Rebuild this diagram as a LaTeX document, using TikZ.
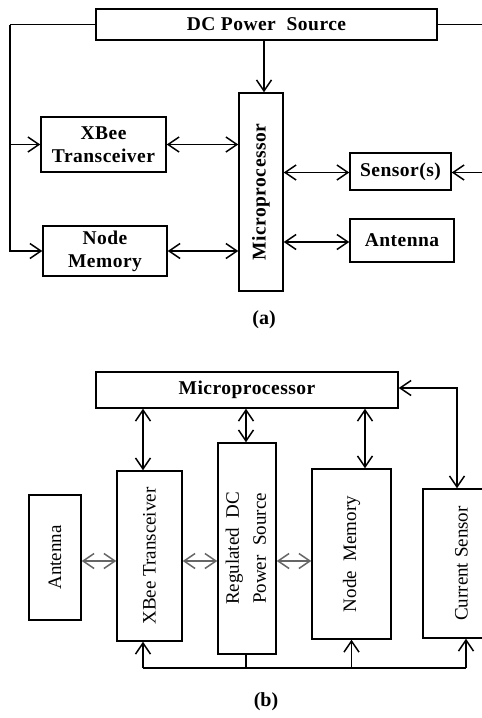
\documentclass[tikz,border=0pt]{standalone}
\usepackage{fontspec}
\setmainfont{Liberation Serif}
\newfontfamily\boldspaced[LetterSpace=2.5]{Liberation Serif}
\usetikzlibrary{arrows.meta,calc}
\begin{document}
\begin{tikzpicture}[x=1pt,y=-1pt,
 box/.style={draw, line width=1.5pt, inner sep=0pt, align=center, font=\fontsize{19}{22}\selectfont},
 bbox/.style={box, font=\boldspaced\fontsize{19.5}{23}\selectfont\bfseries},
 lbl/.style={font=\fontsize{20}{22}\selectfont\bfseries, inner sep=0pt},
 conn/.style={line width=1.5pt},
 arr/.style={conn, -{Straight Barb[length=11pt,width=15pt]}},
 darr/.style={conn, {Straight Barb[length=11pt,width=15pt]}-{Straight Barb[length=11pt,width=15pt]}},
 garr/.style={darr, draw=black!60},
 ]
\useasboundingbox (0,0) rectangle (482,718);
% ---------- panel (a)
\node[bbox, minimum width=341pt, minimum height=31pt] (dcps) at (266.5,24.5) {DC Power\ \ Source};
\node[bbox, minimum width=44pt, minimum height=198pt] (micro) at (261,192) {\rotatebox{90}{Microprocessor}};
\node[bbox, minimum width=125pt, minimum height=55pt] (xbee) at (103.5,144.5) {XBee\\Transceiver};
\node[bbox, minimum width=101pt, minimum height=37pt] (sensor) at (400.5,171.5) {Sensor(s)};
\node[bbox, minimum width=104pt, minimum height=43pt] (antenna) at (402,240.5) {Antenna};
\node[bbox, minimum width=124pt, minimum height=50pt] (nodemem) at (105,251) {Node\\Memory};
\coordinate (lc) at (10,24.5);
\coordinate (rc) at (490,24.5);
\coordinate (rs) at (490,172.5);
\draw[conn] (dcps.west) -- (lc);
\draw[arr] (lc) |- (nodemem.west);
\draw[arr] (lc |- xbee.west) -- (xbee.west);
\draw[conn] (dcps.east) -- (rc);
\draw[arr] (rs) -- (rs -| sensor.east);
\draw[arr] ([xshift=-2.5pt]dcps.south) -- ([xshift=-2.5pt]dcps.south |- micro.north);
\draw[darr] (xbee.east) -- (xbee.east -| micro.west);
\draw[darr] (nodemem.east) -- (nodemem.east -| micro.west);
\draw[darr] ([yshift=-1pt]micro.east |- sensor.west) -- ([yshift=-1pt]sensor.west);
\draw[darr] ([yshift=-1.5pt]micro.east |- antenna.west) -- ([yshift=-1.5pt]antenna.west);
\node[lbl] (la) at (264,320) {(a)};
% ---------- panel (b)
\node[bbox, minimum width=302pt, minimum height=36pt] (micro2) at (247,390) {Microprocessor};
\node[box, minimum width=52pt, minimum height=125pt] (antenna2) at (55,557.5) {\rotatebox{90}{Antenna}};
\node[box, minimum width=65pt, minimum height=170pt] (xbee2) at (149.5,556) {\rotatebox{90}{XBee Transceiver}};
\node[box, minimum width=58pt, minimum height=211pt, font=\fontsize{19}{27}\selectfont] (reg) at (247,548.5) {\rotatebox{90}{\begin{tabular}{@{}c@{}}Regulated\ \ DC\\Power\ \ Source\end{tabular}}};
\node[box, minimum width=79pt, minimum height=170pt] (node2) at (351.5,554) {\rotatebox{90}{Node\ \ Memory}};
\node[box, minimum width=77pt, minimum height=149pt] (cs) at (461.5,563.5) {\rotatebox{90}{Current Sensor}};
\draw[darr] ([xshift=-6.5pt]xbee2.north) -- ([xshift=-6.5pt]xbee2.north |- micro2.south);
\draw[darr] ([xshift=-1pt]reg.north) -- ([xshift=-1pt]reg.north |- micro2.south);
\draw[darr] ([xshift=13.5pt]node2.north) -- ([xshift=13.5pt]node2.north |- micro2.south);
\draw[darr] ([yshift=2pt]micro2.east) -| ([xshift=-4.5pt]cs.north);
\draw[garr] ([yshift=-3.5pt]antenna2.east) -- ([yshift=-3.5pt]antenna2.east -| xbee2.west);
\draw[garr] ([yshift=-5pt]xbee2.east) -- ([yshift=-5pt]xbee2.east -| reg.west);
\draw[garr] ([yshift=-5pt]xbee2.east -| reg.east) -- ([yshift=-5pt]xbee2.east -| node2.west);
\coordinate (bus) at (0,668);
\draw[conn] ([xshift=-6.5pt]xbee2.south |- bus) -- ([xshift=4.5pt]cs.south |- bus);
\draw[arr] ([xshift=-6.5pt]xbee2.south |- bus) -- ([xshift=-6.5pt]xbee2.south);
\draw[conn] ([xshift=-1pt]reg.south) -- ([xshift=-1pt]reg.south |- bus);
\draw[arr] (node2.south |- bus) -- (node2.south);
\draw[arr] ([xshift=4.5pt]cs.south |- bus) -- ([xshift=4.5pt]cs.south);
\node[lbl] (lb) at (266,702) {(b)};
\end{tikzpicture}
\end{document}
